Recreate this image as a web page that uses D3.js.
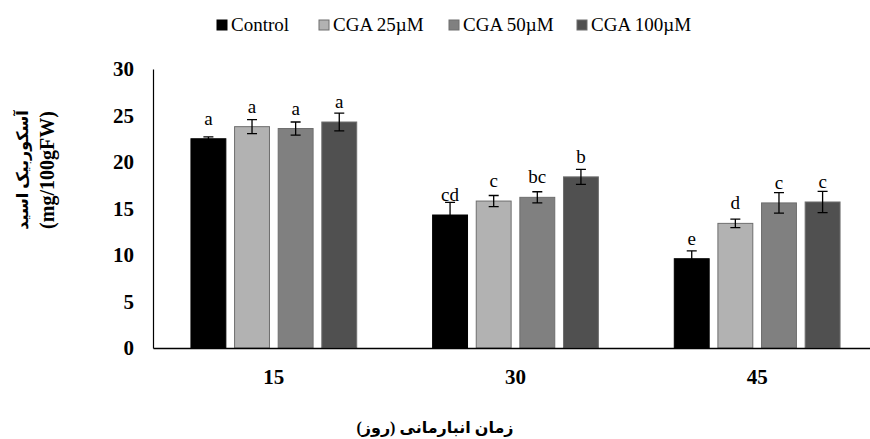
<!DOCTYPE html>
<html>
<head>
<meta charset="utf-8">
<script src="https://cdn.jsdelivr.net/npm/d3@7"></script>
<style>
    body { margin: 0; background: #fff; }
    svg { display: block; font-family: "Liberation Serif", "DejaVu Sans", serif; }
</style>
</head>
<body>
<div id="chart"></div>
<script>
// storage days on the x axis
const days = ["15", "30", "45"]
const series = ["Control", "CGA 25µM", "CGA 50µM", "CGA 100µM"]
// ascorbic acid (mg/100gFW), one array per treatment, in day order
const control = [22.5, 14.3, 9.6]
const cga25 = [23.8, 15.8, 13.4]
const cga50 = [23.6, 16.2, 15.6]
const cga100 = [24.3, 18.4, 15.7]
// standard errors
const err_control = [0.2, 1.35, 0.85]
const err_cga25 = [0.75, 0.6, 0.45]
const err_cga50 = [0.7, 0.6, 1.1]
const err_cga100 = [0.95, 0.8, 1.15]
// significance letters
const let_control = ["a", "cd", "e"]
const let_cga25 = ["a", "c", "d"]
const let_cga50 = ["a", "bc", "c"]
const let_cga100 = ["a", "b", "c"]
const yTicks = [0, 5, 10, 15, 20, 25, 30]

const values = [control, cga25, cga50, cga100]
const errors = [err_control, err_cga25, err_cga50, err_cga100]
const letters = [let_control, let_cga25, let_cga50, let_cga100]
const colors = ["#000000", "#b2b2b2", "#808080", "#505050"]

const W = 870, H = 439
const plot = { left: 153, right: 878, top: 69, bottom: 348 }

const rows = []
days.forEach((d, i) => {
    series.forEach((s, j) => {
        rows.push({ day: d, series: s, idx: j, value: values[j][i], err: errors[j][i], letter: letters[j][i] })
    })
})

/* SVG ELEMENT */
const svg = d3.select("#chart")
    .append("svg")
    .attr("width", W)
    .attr("height", H)

/* SCALES */
const x = d3.scaleBand()
    .domain(days)
    .range([plot.left, plot.right])

const xSub = d3.scaleBand()
    .domain(series)
    .range([0, x.bandwidth()])
    .paddingInner(0.2)
    .paddingOuter(0.87)

const y = d3.scaleLinear()
    .domain([0, 30])
    .range([plot.bottom, plot.top])

/* BARS */
svg.append("g")
    .selectAll("rect")
    .data(rows)
    .enter()
    .append("rect")
    .attr("x", d => x(d.day) + xSub(d.series))
    .attr("y", d => y(d.value))
    .attr("width", xSub.bandwidth())
    .attr("height", d => y(0) - y(d.value))
    .attr("fill", d => colors[d.idx])
    .attr("stroke", d => d.idx === 0 ? "#000" : "#6e6e6e")
    .attr("stroke-width", 1)

/* ERROR BARS */
const errG = svg.append("g")
    .attr("stroke", "#000")
    .attr("stroke-width", 1.3)
    .attr("fill", "none")
const cap = 5
errG.selectAll("path")
    .data(rows)
    .enter()
    .append("path")
    .attr("d", d => {
        const cx = x(d.day) + xSub(d.series) + xSub.bandwidth() / 2
        const y1 = y(d.value + d.err), y0 = y(d.value - d.err)
        return `M${cx - cap},${y1}H${cx + cap}M${cx},${y1}V${y0}M${cx - cap},${y0}H${cx + cap}`
    })

/* LETTERS */
svg.append("g")
    .selectAll("text")
    .data(rows)
    .enter()
    .append("text")
    .attr("x", d => x(d.day) + xSub(d.series) + xSub.bandwidth() / 2)
    .attr("y", d => y(d.value) - 14)
    .attr("text-anchor", "middle")
    .style("font-size", "19px")
    .attr("fill", "#000")
    .text(d => d.letter)

/* Y AXIS */
const yAxis = svg.append("g")
    .attr("transform", `translate(${plot.left},0)`)
    .call(d3.axisLeft(y).tickValues(yTicks).tickSize(0).tickPadding(19))
yAxis.select(".domain").attr("stroke", "#000").attr("stroke-width", 1.2)
yAxis.selectAll("text")
    .style("font-family", "Liberation Serif")
    .style("font-size", "21px")
    .style("font-weight", "bold")
    .attr("fill", "#000")

/* X AXIS */
const xAxis = svg.append("g")
    .attr("transform", `translate(0,${plot.bottom})`)
    .call(d3.axisBottom(x).tickSize(0).tickPadding(21))
xAxis.select(".domain").attr("stroke", "#000").attr("stroke-width", 1.5)
xAxis.selectAll("text")
    .style("font-family", "Liberation Serif")
    .style("font-size", "21px")
    .style("font-weight", "bold")
    .attr("fill", "#000")

/* AXIS TITLES */
svg.append("text")
    .attr("x", 435)
    .attr("y", 433)
    .attr("text-anchor", "middle")
    .attr("direction", "rtl")
    .style("font-size", "16px")
    .style("font-weight", "bold")
    .text("زمان انبارمانی (روز)")

const yTitle = svg.append("g")
    .attr("transform", "translate(0,170) rotate(-90)")
yTitle.append("text")
    .attr("x", 0)
    .attr("y", 28)
    .attr("text-anchor", "middle")
    .attr("direction", "rtl")
    .style("font-size", "16px")
    .style("font-weight", "bold")
    .text("آسکوربیک اسید")
yTitle.append("text")
    .attr("x", 0)
    .attr("y", 54)
    .attr("text-anchor", "middle")
    .style("font-size", "20px")
    .style("font-weight", "bold")
    .text("(mg/100gFW)")

/* LEGEND */
const legendX = [217, 319, 449, 577]
const legend = svg.append("g")
    .selectAll("g")
    .data(series)
    .enter()
    .append("g")
    .attr("transform", (d, i) => `translate(${legendX[i]},20)`)
legend.append("rect")
    .attr("width", 10)
    .attr("height", 10)
    .attr("fill", (d, i) => colors[i])
    .attr("stroke", (d, i) => i === 0 ? "#000" : "#6e6e6e")
legend.append("text")
    .attr("x", 14)
    .attr("y", 10.5)
    .style("font-size", "19px")
    .text(d => d)
</script>
</body>
</html>
